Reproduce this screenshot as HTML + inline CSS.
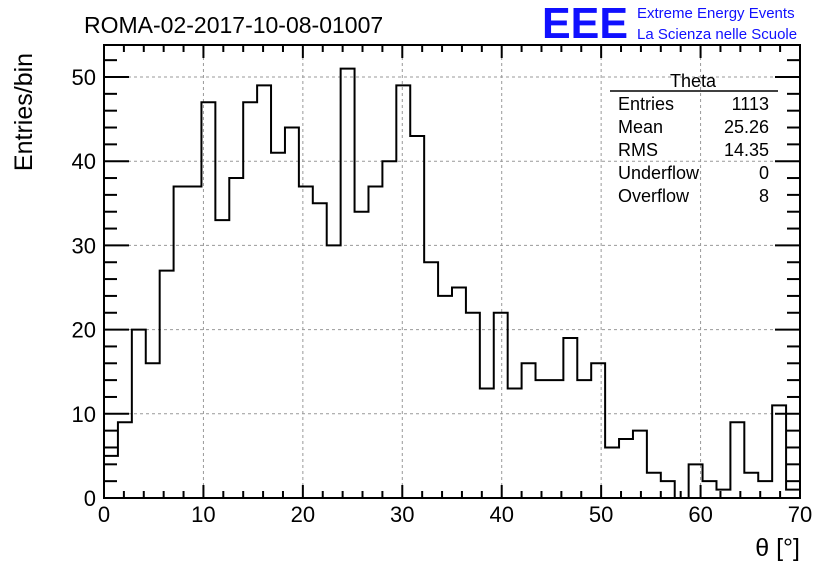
<!DOCTYPE html>
<html><head><meta charset="utf-8"><style>
body{margin:0;background:#fff}
svg text{font-family:"Liberation Sans",sans-serif}
</style></head><body>
<svg id="c" width="836" height="572" xmlns="http://www.w3.org/2000/svg">
<rect width="836" height="572" fill="#fff"/>
<text x="84" y="33" font-size="23">ROMA-02-2017-10-08-01007</text>
<text x="542" y="38" font-size="44" fill="#1010ff" font-weight="bold" textLength="86" lengthAdjust="spacingAndGlyphs">EEE</text>
<text x="637" y="18" font-size="15" fill="#1010ff">Extreme Energy Events</text>
<text x="637" y="39" font-size="15" fill="#1010ff">La Scienza nelle Scuole</text>
<text transform="translate(32,112) rotate(-90)" font-size="25" text-anchor="middle">Entries/bin</text>
<text x="800" y="556" font-size="25" text-anchor="end">θ [°]</text>
<g id="grid"></g><g id="ticks"></g>
<path id="hist" fill="none" stroke="#000" stroke-width="2"/>
<rect x="104" y="45" width="696" height="453" fill="none" stroke="#000" stroke-width="2"/>
<g font-size="18">
<line x1="610" y1="91" x2="778" y2="91" stroke="#000" stroke-width="1.5"/>
<text x="693" y="87" text-anchor="middle">Theta</text>
<text x="618" y="110">Entries</text><text x="769" y="110" text-anchor="end">1113</text>
<text x="618" y="133">Mean</text><text x="769" y="133" text-anchor="end">25.26</text>
<text x="618" y="156">RMS</text><text x="769" y="156" text-anchor="end">14.35</text>
<text x="618" y="179">Underflow</text><text x="769" y="179" text-anchor="end">0</text>
<text x="618" y="202">Overflow</text><text x="769" y="202" text-anchor="end">8</text>
</g>
</svg>
<script>
const counts=[5,9,20,16,27,37,37,47,33,38,47,49,41,44,37,35,30,51,34,37,40,49,43,28,24,25,22,13,22,13,16,14,14,19,14,16,6,7,8,3,2,0,4,2,1,9,3,2,11,1];
const xTicks=[0,10,20,30,40,50,60,70];
const yTicks=[0,10,20,30,40,50];
const binWidth=1.4;
const NS="http://www.w3.org/2000/svg";
const X=v=>104+v*(696/70);
const Y=v=>498-v*(421/50);
const svg=document.getElementById('c');
const grid=document.getElementById('grid'),tk=document.getElementById('ticks');
function mk(tag,at,parent){const e=document.createElementNS(NS,tag);for(const k in at)e.setAttribute(k,at[k]);parent.appendChild(e);return e;}
xTicks.forEach(v=>{
 if(v>0&&v<70){const g=mk('line',{x1:X(v),x2:X(v),y1:45,y2:498,stroke:'#999','stroke-dasharray':'3,3'},grid);
 
 }
 const t=mk('text',{x:X(v),y:522,'font-size':22,'text-anchor':'middle'},tk);t.textContent=v;
 
 
});
yTicks.forEach(v=>{
 if(v>0){const g=mk('line',{x1:104,x2:800,y1:Y(v),y2:Y(v),stroke:'#999','stroke-dasharray':'3,3'},grid);
 
 }
 const t=mk('text',{x:96,y:Y(v)+8,'font-size':22,'text-anchor':'end'},tk);t.textContent=v;
 
 
});
for(let v=0;v<=70;v+=2){const L=v%10==0?13:7;
 mk('line',{x1:X(v),x2:X(v),y1:498,y2:498-L,stroke:'#000','stroke-width':2},tk);
 mk('line',{x1:X(v),x2:X(v),y1:45,y2:45+L,stroke:'#000','stroke-width':2},tk);}
for(let v=0;v<=53;v+=2){if(Y(v)<45)break;const L=v%10==0?25:13;
 mk('line',{x1:104,x2:104+L,y1:Y(v),y2:Y(v),stroke:'#000','stroke-width':2},tk);
 mk('line',{x1:800,x2:800-L,y1:Y(v),y2:Y(v),stroke:'#000','stroke-width':2},tk);}
let d=`M${X(0)},${Y(0)}`;
counts.forEach((c,i)=>{d+=` L${X(i*binWidth)},${Y(c)} L${X((i+1)*binWidth)},${Y(c)}`;});
d+=` L${X(counts.length*binWidth)},${Y(0)}`;
document.getElementById('hist').setAttribute('d',d);
</script>
</body></html>
